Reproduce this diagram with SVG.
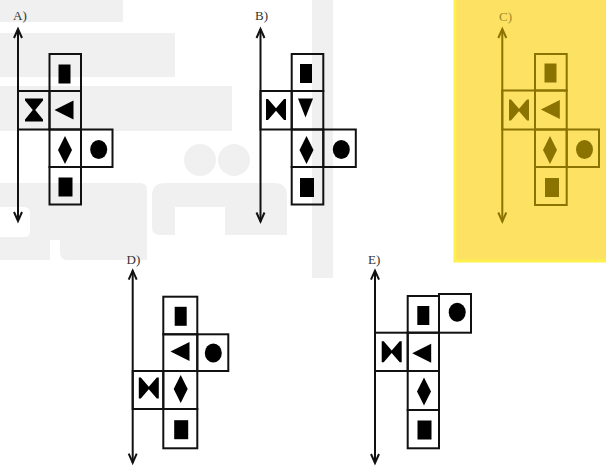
<svg xmlns="http://www.w3.org/2000/svg" xmlns:xlink="http://www.w3.org/1999/xlink" width="606" height="466" viewBox="0 0 606 466">
<style>
.wm{fill:#f0f0f0;fill-rule:evenodd}
.cell{fill:none;stroke:#111;stroke-width:2}
.sym{fill:#000}
.ax{stroke:#111;stroke-width:2;fill:none;marker-start:url(#ah);marker-end:url(#ah)}
.lbl{font-family:"Liberation Serif","Times New Roman",serif;font-size:13px;fill:#333}
.c .cell{stroke:#8a7300}
.c .sym{fill:#8a7300}
.c .ax{stroke:#8a7300;marker-start:url(#ahc);marker-end:url(#ahc)}
.c .lbl{fill:#a08a2a}
</style>
<defs>
<marker id="ah" viewBox="-10 -5 11 10" refX="0" refY="0" markerWidth="11" markerHeight="10" markerUnits="userSpaceOnUse" orient="auto-start-reverse" overflow="visible"><path d="M-9,-4 L0,0 L-9,4" fill="none" stroke="#111" stroke-width="2"/></marker>
<marker id="ahc" viewBox="-10 -5 11 10" refX="0" refY="0" markerWidth="11" markerHeight="10" markerUnits="userSpaceOnUse" orient="auto-start-reverse" overflow="visible"><path d="M-9,-4 L0,0 L-9,4" fill="none" stroke="#8a7300" stroke-width="2"/></marker>
<rect id="sqN" x="-6" y="-9.5" width="12" height="19"/>
<rect id="sqW" x="-7" y="-9.5" width="14" height="19"/>
<polygon id="hg" points="-9,-11.5 9,-11.5 9,-9.5 1.2,0 9,9.5 9,11.5 -9,11.5 -9,9.5 -1.2,0 -9,-9.5"/>
<polygon id="bt" points="-10,-10.5 -8,-10.5 0,-1.2 8,-10.5 10,-10.5 10,10.5 8,10.5 0,1.2 -8,10.5 -10,10.5"/>
<polygon id="tl" points="-9.5,0 9.5,-9.5 9.5,9.5"/>
<polygon id="td" points="-7.5,-9.5 7.5,-9.5 0,9.5"/>
<polygon id="dm" points="0,-14 7,0 0,14 -7,0"/>
<ellipse id="ci" rx="8.5" ry="9.5"/>
</defs>
<rect width="606" height="466" fill="#fff"/>
<g id="watermark">
<rect class="wm" x="0" y="0" width="123" height="22"/>
<rect class="wm" x="0" y="33" width="175" height="44"/>
<rect class="wm" x="0" y="86" width="232" height="45"/>
<circle class="wm" cx="200" cy="160" r="16"/>
<circle class="wm" cx="234" cy="160" r="16"/>
<rect class="wm" x="312" y="0" width="21" height="278"/>
<path class="wm" d="M152,196 Q152,183 165,183 L274,183 Q287,183 287,196 L287,235 L225,235 L225,207 L175,207 L175,235 L160,235 Q152,235 152,227 Z"/>
<path class="wm" d="M0,183 L140,183 Q147,183 147,190 L147,260 L68,260 Q60,260 60,252 L60,240 L50,240 L50,260 L0,260 Z M0,207 L24,207 Q30,207 30,213 L30,231 Q30,237 24,237 L0,237 Z"/>
</g>
<rect id="highlight" x="455" y="-2" width="153" height="263" fill="#fde163" stroke="#fff04e" stroke-width="3"/>
<g id="fig-A">
<text class="lbl" x="13" y="19.5">A)</text>
<line class="ax" x1="18" y1="29" x2="18" y2="221"/>
<rect class="cell" x="49.5" y="54" width="31.5" height="37"/>
<rect class="cell" x="18" y="91" width="31.5" height="38.5"/>
<rect class="cell" x="49.5" y="91" width="31.5" height="38.5"/>
<rect class="cell" x="49.5" y="129.5" width="31.5" height="37.5"/>
<rect class="cell" x="81" y="129.5" width="31.5" height="37.5"/>
<rect class="cell" x="49.5" y="167" width="31.5" height="37.5"/>
<use class="sym" href="#sqN" x="64.5" y="74"/>
<use class="sym" href="#hg" x="34" y="110"/>
<use class="sym" href="#tl" x="64" y="110"/>
<use class="sym" href="#dm" x="65" y="150"/>
<use class="sym" href="#ci" x="98.7" y="149.5"/>
<use class="sym" href="#sqW" x="65.5" y="187"/>
</g>
<g id="fig-B">
<text class="lbl" x="255" y="20">B)</text>
<line class="ax" x1="260.5" y1="29" x2="260.5" y2="221.5"/>
<rect class="cell" x="291.7" y="54" width="31.6" height="37"/>
<rect class="cell" x="260.5" y="91" width="31.2" height="38.5"/>
<rect class="cell" x="291.7" y="91" width="31.6" height="38.5"/>
<rect class="cell" x="291.7" y="129.5" width="31.6" height="37.5"/>
<rect class="cell" x="323.3" y="129.5" width="32.5" height="37.5"/>
<rect class="cell" x="291.7" y="167" width="31.6" height="37.5"/>
<use class="sym" href="#sqN" x="306" y="73.5"/>
<use class="sym" href="#bt" x="276" y="109.5"/>
<use class="sym" href="#td" x="305.5" y="108"/>
<use class="sym" href="#dm" x="306.5" y="150"/>
<use class="sym" href="#ci" x="341.3" y="149.5"/>
<use class="sym" href="#sqW" x="307" y="187.5"/>
</g>
<g id="fig-C" class="c">
<text class="lbl" x="499" y="20.5">C)</text>
<line class="ax" x1="502.3" y1="29" x2="502.3" y2="221.5"/>
<rect class="cell" x="535" y="54" width="31.7" height="36.5"/>
<rect class="cell" x="502.3" y="90.5" width="32.7" height="39"/>
<rect class="cell" x="535" y="90.5" width="31.7" height="39"/>
<rect class="cell" x="535" y="129.5" width="31.7" height="37.5"/>
<rect class="cell" x="566.7" y="129.5" width="32.3" height="37.5"/>
<rect class="cell" x="535" y="167" width="31.7" height="38"/>
<use class="sym" href="#sqN" x="550.5" y="73"/>
<use class="sym" href="#bt" x="519" y="110"/>
<use class="sym" href="#tl" x="550.3" y="109.5"/>
<use class="sym" href="#dm" x="550" y="150"/>
<use class="sym" href="#ci" x="584.5" y="149.5"/>
<use class="sym" href="#sqW" x="552" y="187.5"/>
</g>
<g id="fig-D">
<text class="lbl" x="126.5" y="264">D)</text>
<line class="ax" x1="132.7" y1="270.7" x2="132.7" y2="462.7"/>
<rect class="cell" x="163.3" y="296.7" width="34" height="37.6"/>
<rect class="cell" x="163.3" y="334.3" width="34" height="36.7"/>
<rect class="cell" x="197.3" y="334.3" width="31" height="36.7"/>
<rect class="cell" x="132.7" y="371" width="30.6" height="38"/>
<rect class="cell" x="163.3" y="371" width="34" height="38"/>
<rect class="cell" x="163.3" y="409" width="34" height="39.3"/>
<use class="sym" href="#sqN" x="180.7" y="316.3"/>
<use class="sym" href="#tl" x="180" y="351.5"/>
<use class="sym" href="#ci" x="213.3" y="353"/>
<use class="sym" href="#bt" x="148.8" y="388"/>
<use class="sym" href="#dm" x="180.7" y="389"/>
<use class="sym" href="#sqW" x="181.2" y="429.7"/>
</g>
<g id="fig-E">
<text class="lbl" x="368" y="264">E)</text>
<line class="ax" x1="375" y1="270.7" x2="375" y2="463"/>
<rect class="cell" x="407.7" y="296" width="31.3" height="36.7"/>
<rect class="cell" x="439" y="294" width="32" height="38.7"/>
<rect class="cell" x="375" y="332.7" width="32.7" height="38.3"/>
<rect class="cell" x="407.7" y="332.7" width="31.3" height="38.3"/>
<rect class="cell" x="407.7" y="371" width="31.3" height="39"/>
<rect class="cell" x="407.7" y="410" width="31.3" height="38.3"/>
<use class="sym" href="#sqN" x="423.3" y="315.5"/>
<use class="sym" href="#ci" x="457.2" y="312.2"/>
<use class="sym" href="#bt" x="391.7" y="351.7"/>
<use class="sym" href="#tl" x="421.7" y="353.3"/>
<use class="sym" href="#dm" x="424" y="391.5"/>
<use class="sym" href="#sqW" x="424.5" y="430"/>
</g>
</svg>
